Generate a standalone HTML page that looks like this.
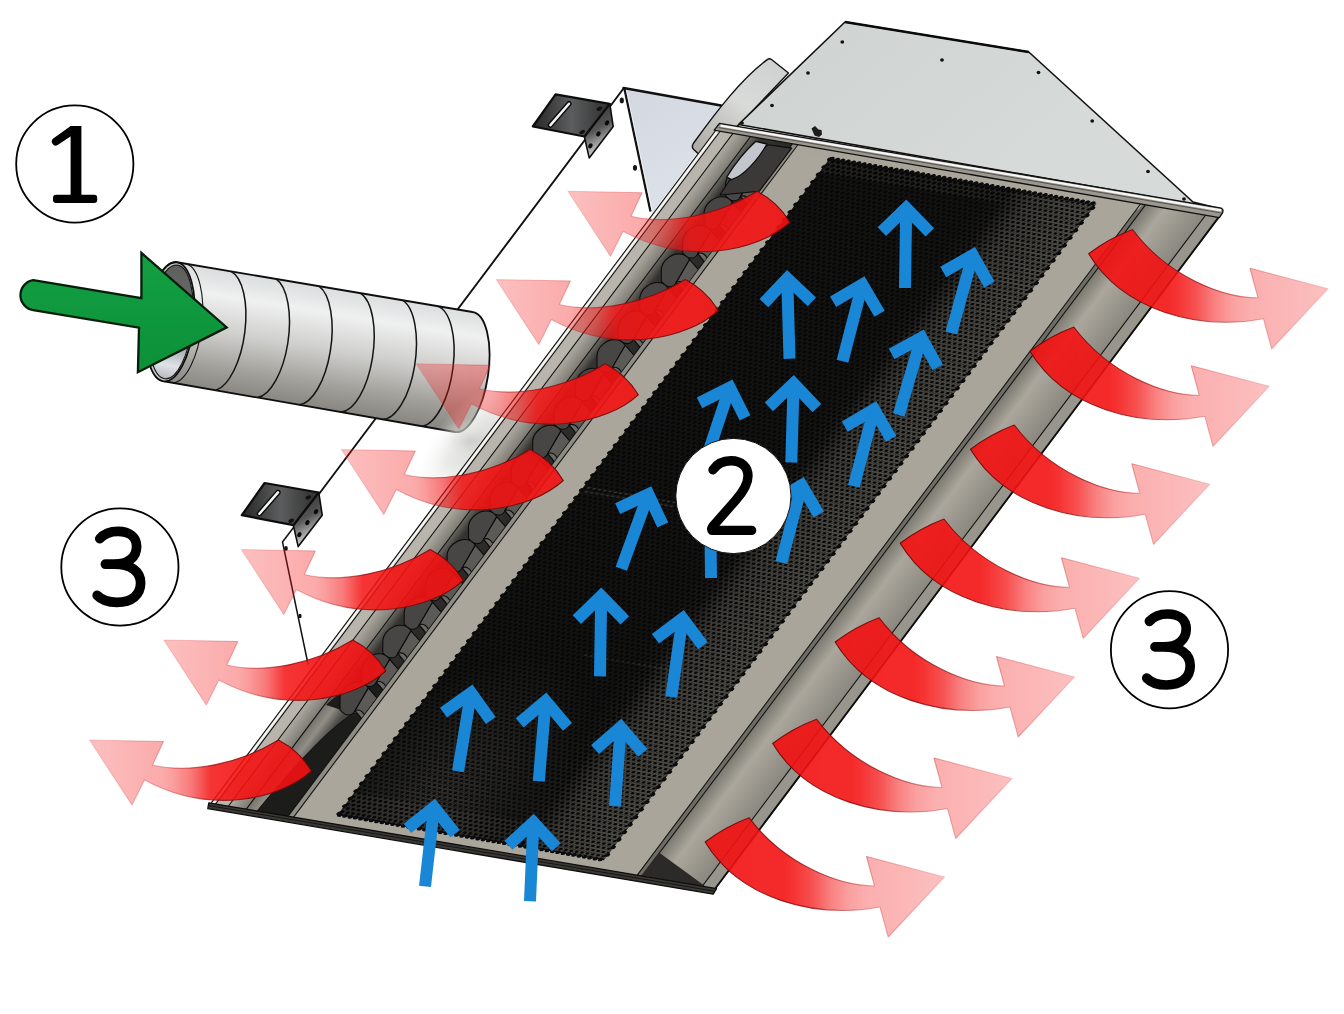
<!DOCTYPE html>
<html lang="en">
<head>
<meta charset="utf-8">
<title>Air flow diagram</title>
<style>
html,body{margin:0;padding:0;background:#fff;font-family:"Liberation Sans",sans-serif;}
body{width:1344px;height:1014px;overflow:hidden;}
svg{display:block;}
</style>
</head>
<body>
<svg width="1344" height="1014" viewBox="0 0 1344 1014">
<defs>
<linearGradient id="gDuct" gradientUnits="userSpaceOnUse" x1="330" y1="285" x2="310" y2="410">
 <stop offset="0" stop-color="#d9dbdc"/><stop offset="0.22" stop-color="#eff0f0"/>
 <stop offset="0.5" stop-color="#d0d0ce"/><stop offset="0.78" stop-color="#a3a19b"/><stop offset="1" stop-color="#85837d"/>
</linearGradient>
<linearGradient id="gDuctIn" gradientUnits="userSpaceOnUse" x1="6" y1="-56" x2="-6" y2="56">
 <stop offset="0" stop-color="#5f5f5d"/><stop offset="0.5" stop-color="#6e6e6c"/>
 <stop offset="0.7" stop-color="#a4a8ad"/><stop offset="0.88" stop-color="#dfe3e8"/><stop offset="1" stop-color="#b9bdc3"/>
</linearGradient>
<linearGradient id="gGreen" x1="0" y1="0" x2="0" y2="1">
 <stop offset="0" stop-color="#13a043"/><stop offset="1" stop-color="#0c9038"/>
</linearGradient>
<linearGradient id="gBrk" x1="0" y1="0" x2="1" y2="0">
 <stop offset="0" stop-color="#262626"/><stop offset="0.5" stop-color="#5c5d5e"/><stop offset="1" stop-color="#2e2e2e"/>
</linearGradient>
<linearGradient id="gBrkV" x1="0" y1="0" x2="0.3" y2="1">
 <stop offset="0" stop-color="#2a2a2a"/><stop offset="0.55" stop-color="#555"/><stop offset="1" stop-color="#dcdcdc"/>
</linearGradient>
<linearGradient id="gTri" gradientUnits="userSpaceOnUse" x1="625" y1="90" x2="690" y2="200">
 <stop offset="0" stop-color="#d3d8e0"/><stop offset="1" stop-color="#dde1e8"/>
</linearGradient>
<linearGradient id="gSpig" gradientUnits="userSpaceOnUse" x1="770" y1="60" x2="700" y2="150">
 <stop offset="0" stop-color="#cfd2d1"/><stop offset="0.45" stop-color="#d9dbd9"/><stop offset="1" stop-color="#aeaca4"/>
</linearGradient>
<linearGradient id="gCap" gradientUnits="userSpaceOnUse" x1="850" y1="20" x2="1000" y2="200">
 <stop offset="0" stop-color="#d0d4d3"/><stop offset="1" stop-color="#d6dad9"/>
</linearGradient>
<!-- sloped right face gradient across u (panel space) -->
<linearGradient id="gSlope" gradientUnits="userSpaceOnUse" x1="437" y1="0" x2="498" y2="0">
 <stop offset="0" stop-color="#7b7870"/><stop offset="0.33" stop-color="#aba79d"/><stop offset="1" stop-color="#8a877e"/>
</linearGradient>
<linearGradient id="gLeftBand" gradientUnits="userSpaceOnUse" x1="18" y1="0" x2="36" y2="0">
 <stop offset="0" stop-color="#aeaaa1"/><stop offset="1" stop-color="#7e7b74"/>
</linearGradient>
<linearGradient id="gSlot" gradientUnits="userSpaceOnUse" x1="36" y1="0" x2="78" y2="0">
 <stop offset="0" stop-color="#6a6862"/><stop offset="0.25" stop-color="#34332f"/><stop offset="1" stop-color="#2a2927"/>
</linearGradient>
<linearGradient id="gRail" gradientUnits="userSpaceOnUse" x1="36" y1="0" x2="60" y2="0">
 <stop offset="0" stop-color="#76736c"/><stop offset="0.45" stop-color="#918e86"/><stop offset="1" stop-color="#4a4946"/>
</linearGradient>
<radialGradient id="gBlob"><stop offset="0" stop-color="#c6c6c2" stop-opacity="0.85"/><stop offset="0.45" stop-color="#d4d4d0" stop-opacity="0.5"/><stop offset="1" stop-color="#fff" stop-opacity="0"/></radialGradient>
<radialGradient id="gBlob2"><stop offset="0" stop-color="#c9c9c6" stop-opacity="0.7"/><stop offset="1" stop-color="#fff" stop-opacity="0"/></radialGradient>
<linearGradient id="gGlass" gradientUnits="userSpaceOnUse" x1="-38" y1="0" x2="0" y2="0">
 <stop offset="0" stop-color="#ffffff" stop-opacity="0"/><stop offset="1" stop-color="#c9c9c4" stop-opacity="0.9"/>
</linearGradient>
<!-- red arrows (local coords, tip at origin) -->
<linearGradient id="gRedL" gradientUnits="userSpaceOnUse" x1="0" y1="0" x2="222" y2="0">
 <stop offset="0" stop-color="#f41414" stop-opacity="0.27"/>
 <stop offset="0.333" stop-color="#f41414" stop-opacity="0.36"/>
 <stop offset="0.374" stop-color="#f41414" stop-opacity="0.41"/>
 <stop offset="0.46" stop-color="#f41414" stop-opacity="0.57"/>
 <stop offset="0.545" stop-color="#f41414" stop-opacity="0.86"/>
 <stop offset="0.68" stop-color="#f31212" stop-opacity="0.9"/>
 <stop offset="1" stop-color="#f21111" stop-opacity="0.91"/>
</linearGradient>
<linearGradient id="gRedLs" gradientUnits="userSpaceOnUse" x1="0" y1="0" x2="222" y2="0">
 <stop offset="0" stop-color="#d44" stop-opacity="0.2"/>
 <stop offset="0.33" stop-color="#c33" stop-opacity="0.4"/>
 <stop offset="0.56" stop-color="#900c0c" stop-opacity="0.8"/>
 <stop offset="1" stop-color="#6a0606" stop-opacity="0.95"/>
</linearGradient>
<linearGradient id="gRedR" gradientUnits="userSpaceOnUse" x1="-240" y1="0" x2="0" y2="0">
 <stop offset="0" stop-color="#f21111" stop-opacity="0.91"/>
 <stop offset="0.33" stop-color="#f31212" stop-opacity="0.9"/>
 <stop offset="0.37" stop-color="#f41414" stop-opacity="0.87"/>
 <stop offset="0.45" stop-color="#f41414" stop-opacity="0.74"/>
 <stop offset="0.525" stop-color="#f41414" stop-opacity="0.54"/>
 <stop offset="0.604" stop-color="#f41414" stop-opacity="0.40"/>
 <stop offset="0.68" stop-color="#f41414" stop-opacity="0.34"/>
 <stop offset="1" stop-color="#f41414" stop-opacity="0.27"/>
</linearGradient>
<linearGradient id="gRedRs" gradientUnits="userSpaceOnUse" x1="-240" y1="0" x2="0" y2="0">
 <stop offset="0" stop-color="#6a0606" stop-opacity="0.95"/>
 <stop offset="0.45" stop-color="#900c0c" stop-opacity="0.8"/>
 <stop offset="0.71" stop-color="#c33" stop-opacity="0.4"/>
 <stop offset="1" stop-color="#d44" stop-opacity="0.2"/>
</linearGradient>
<!-- perforation pattern (panel space) -->
<pattern id="pPerf" patternUnits="userSpaceOnUse" width="5.4" height="9.4">
 <rect width="5.4" height="9.4" fill="#363531"/>
 <circle cx="2.7" cy="2.35" r="2.15" fill="#050505"/>
 <circle cx="0" cy="7.05" r="2.15" fill="#050505"/>
 <circle cx="5.4" cy="7.05" r="2.15" fill="#050505"/>
</pattern>
<pattern id="pMesh" patternUnits="userSpaceOnUse" width="5.4" height="9.4">
 <circle cx="2.7" cy="2.35" r="2.2" fill="none" stroke="#76736a" stroke-width="0.8"/>
 <circle cx="0" cy="7.05" r="2.2" fill="none" stroke="#76736a" stroke-width="0.8"/>
 <circle cx="5.4" cy="7.05" r="2.2" fill="none" stroke="#76736a" stroke-width="0.8"/>
</pattern>
<linearGradient id="gDark" gradientUnits="userSpaceOnUse" x1="122" y1="0" x2="325" y2="0">
 <stop offset="0" stop-color="#0a0a0a" stop-opacity="0.62"/><stop offset="0.8" stop-color="#0a0a0a" stop-opacity="0.62"/><stop offset="1" stop-color="#0a0a0a" stop-opacity="0"/>
</linearGradient>
<linearGradient id="gMeshFade" gradientUnits="userSpaceOnUse" x1="305" y1="0" x2="392" y2="0">
 <stop offset="0" stop-color="#fff" stop-opacity="0"/><stop offset="0.3" stop-color="#fff" stop-opacity="0.6"/><stop offset="1" stop-color="#fff" stop-opacity="0.9"/>
</linearGradient>
<mask id="mMeshR" maskUnits="userSpaceOnUse" x="0" y="0" width="520" height="860">
 <rect x="290" y="0" width="110" height="860" fill="url(#gMeshFade)"/>
</mask>
<radialGradient id="gMeshBL" gradientUnits="userSpaceOnUse" cx="200" cy="40" r="120" gradientTransform="translate(200 40) scale(1 1.6) translate(-200 -40)">
 <stop offset="0" stop-color="#fff" stop-opacity="0.55"/><stop offset="1" stop-color="#fff" stop-opacity="0"/>
</radialGradient>
<mask id="mMeshBL" maskUnits="userSpaceOnUse" x="0" y="0" width="520" height="860">
 <rect x="120" y="0" width="280" height="260" fill="url(#gMeshBL)"/>
</mask>
</defs>
<rect width="1344" height="1014" fill="#fff"/>
<g id="glass-lines" fill="none" stroke="#111" stroke-width="1.9" stroke-linecap="round">
<path d="M623.5,88.5 L319,494"/>
<path d="M319,494 L282.5,542 L308,664" stroke-width="1.5"/>
</g>
<g id="duct">
<path d="M175.5,262.0 L472.5,312.0 A24.5,60.6 8.3 0 1 455.0,432.0 L162.5,381.0 A24,60 6.2 0 1 175.5,262.0 Z" fill="url(#gDuct)" stroke="#0e0e0e" stroke-width="1.8" stroke-linejoin="round"/>
<g fill="none" stroke="#141414" stroke-width="1.5">
<path d="M231.0,271.3 A26,61 8 0 1 216.0,390.3"/>
<path d="M276.0,278.9 A26,61 8 0 1 257.5,397.6"/>
<path d="M319.0,286.2 A26,61 8 0 1 299.0,404.8"/>
<path d="M360.5,293.1 A26,61 8 0 1 341.0,412.1"/>
<path d="M402.5,300.2 A26,61 8 0 1 382.5,419.4"/>
<path d="M437.5,306.1 A26,61 8 0 1 422.5,426.3"/>
<path d="M186.5,263.9 A24,60 6.5 0 1 173.0,382.8" stroke-width="1.1"/>
</g>
<g transform="translate(170.2 321.8) rotate(6.2)">
<ellipse rx="23.8" ry="59.8" fill="#c9c9c6" stroke="#0e0e0e" stroke-width="1.7"/>
<ellipse cx="0.9" rx="21.4" ry="57.2" fill="url(#gDuctIn)" stroke="#1a1a1a" stroke-width="1.2"/>
</g>
</g>
<path id="green" d="M33.2,280.2 L141.4,298.2 L141.4,252.9 L226.7,327.4 L137.9,372.2 L139.0,327.6 L33.2,310.2 A15.2,15.2 0 0 1 33.2,280.2 Z" fill="url(#gGreen)" stroke="#061d0b" stroke-width="2.3" stroke-linejoin="miter"/>
<g id="brackets">
<g transform="translate(0.0 0.0)">
<path d="M318.8,492.5 L322.2,515.2 L298.2,546.6 L293.4,525.6 Z" fill="url(#gBrkV)" stroke="#0d0d0d" stroke-width="1.6" stroke-linejoin="round"/>
<ellipse cx="316.0" cy="511.6" rx="2.0" ry="2.7" fill="#0a0a0a" transform="rotate(25 316.0 511.6)"/>
<ellipse cx="307.4" cy="522.6" rx="2.0" ry="2.7" fill="#0a0a0a" transform="rotate(25 307.4 522.6)"/>
<ellipse cx="299.4" cy="534.6" rx="2.0" ry="2.7" fill="#0a0a0a" transform="rotate(25 299.4 534.6)"/>
<path d="M264.6,483.0 L318.8,492.5 L293.4,525.2 L241.8,515.2 Z" fill="url(#gBrk)" stroke="#0d0d0d" stroke-width="2.2" stroke-linejoin="round"/>
<path d="M278.0,492.4 L259.4,513.8" stroke="#0d0d0d" stroke-width="5.4" stroke-linecap="round" fill="none"/>
<path d="M278.0,492.4 L259.4,513.8" stroke="#f4f4f4" stroke-width="2.5" stroke-linecap="round" fill="none"/>
<ellipse cx="308.4" cy="497.4" rx="3.0" ry="1.9" fill="#101010" transform="rotate(-25 308.4 497.4)"/>
<ellipse cx="291.2" cy="520.8" rx="3.0" ry="1.9" fill="#101010" transform="rotate(-25 291.2 520.8)"/>
</g>
<g transform="translate(291.0 -388.7)">
<path d="M318.8,492.5 L322.2,515.2 L298.2,546.6 L293.4,525.6 Z" fill="url(#gBrkV)" stroke="#0d0d0d" stroke-width="1.6" stroke-linejoin="round"/>
<ellipse cx="316.0" cy="511.6" rx="2.0" ry="2.7" fill="#0a0a0a" transform="rotate(25 316.0 511.6)"/>
<ellipse cx="307.4" cy="522.6" rx="2.0" ry="2.7" fill="#0a0a0a" transform="rotate(25 307.4 522.6)"/>
<ellipse cx="299.4" cy="534.6" rx="2.0" ry="2.7" fill="#0a0a0a" transform="rotate(25 299.4 534.6)"/>
<path d="M264.6,483.0 L318.8,492.5 L293.4,525.2 L241.8,515.2 Z" fill="url(#gBrk)" stroke="#0d0d0d" stroke-width="2.2" stroke-linejoin="round"/>
<path d="M278.0,492.4 L259.4,513.8" stroke="#0d0d0d" stroke-width="5.4" stroke-linecap="round" fill="none"/>
<path d="M278.0,492.4 L259.4,513.8" stroke="#f4f4f4" stroke-width="2.5" stroke-linecap="round" fill="none"/>
<ellipse cx="308.4" cy="497.4" rx="3.0" ry="1.9" fill="#101010" transform="rotate(-25 308.4 497.4)"/>
<ellipse cx="291.2" cy="520.8" rx="3.0" ry="1.9" fill="#101010" transform="rotate(-25 291.2 520.8)"/>
</g>
</g>
<g fill="#111"><ellipse cx="286" cy="548.5" rx="1.8" ry="2.4"/><ellipse cx="300" cy="616" rx="1.6" ry="2.3"/></g>
<g id="plenum">
<path d="M624.3,88.0 L721.0,105.5 L716,128 L652.5,213 Z" fill="url(#gTri)" stroke="none"/>
<path d="M623.6,88.0 L721.0,105.5" stroke="#111" stroke-width="2.6" fill="none" stroke-linecap="round"/>
<path d="M624.3,88.0 L650.5,211.5" stroke="#111" stroke-width="2.3" fill="none"/>
<path d="M626.3,90 L652,210" stroke="#fff" stroke-width="0.8" fill="none" opacity="0.8"/>
<g fill="#161616"><ellipse cx="621.8" cy="100.4" rx="2.1" ry="2.9"/><ellipse cx="635.0" cy="167.8" rx="2.1" ry="2.9"/></g>
</g>
<path id="spigot" d="M788.5,73.0 L771.5,59.5 Q769.5,58 767.3,59.6 C742,78 716,112 693.3,143.5 Q691.2,147 693.8,149.6 L698.5,154.0 L740,124 Z" fill="url(#gSpig)" stroke="#111" stroke-width="1.4" stroke-linejoin="round"/>
<g id="cap">
<path d="M738.5,124.5 L845.0,22.0 L1028.8,52.0 L1193.0,202.0 L1221,209 Z" fill="url(#gCap)" stroke="#111" stroke-width="1.6" stroke-linejoin="round"/>
<path d="M845.0,22.0 L1028.8,52.0" stroke="#0a0a0a" stroke-width="2.4" fill="none"/>
<g fill="#111">
<ellipse cx="842.3" cy="42.0" rx="1.9" ry="1.7"/>
<ellipse cx="808.0" cy="73.0" rx="1.9" ry="1.7"/>
<ellipse cx="772.0" cy="105.5" rx="1.9" ry="1.7"/>
<ellipse cx="942.0" cy="60.0" rx="1.9" ry="1.7"/>
<ellipse cx="1038.5" cy="72.5" rx="1.9" ry="1.7"/>
<ellipse cx="1092.2" cy="121.0" rx="1.9" ry="1.7"/>
<ellipse cx="1148.0" cy="171.5" rx="1.9" ry="1.7"/>
<ellipse cx="742.0" cy="123.0" rx="1.9" ry="1.7"/>
<ellipse cx="1184.0" cy="199.0" rx="1.9" ry="1.7"/>
</g>
<path d="M811.5,128.5 l3.5,-2.5 l3.5,3.5 l3,0.5 l0.5,4.5 l-3,2.5 l-4.5,-1.5 z" fill="#1c1c1c"/>
</g>
<g transform="matrix(0.9863 0.1680 0.6000 -0.8000 210.0 804.0)"><ellipse cx="-4" cy="452" rx="46" ry="80" fill="url(#gBlob)"/></g>
<ellipse cx="470" cy="441" rx="34" ry="22" fill="url(#gBlob2)"/>
<g id="body" transform="matrix(0.9863 0.1680 0.6000 -0.8000 210.0 804.0)">
<rect x="0" y="0" width="512" height="847" fill="#aaa69c"/>
<rect x="0" y="0" width="5" height="847" fill="#dddbd6"/>
<rect x="5" y="0" width="13" height="847" fill="#b9b5ac"/>
<rect x="18" y="0" width="18" height="847" fill="url(#gLeftBand)"/>
<rect x="36" y="0" width="43" height="847" fill="url(#gSlot)"/>
<path d="M36,0 H78.5 V166 L52,166 Q40,150 36,124 Z" fill="#1c1c1b"/>
<ellipse cx="66" cy="140" rx="9" ry="13" fill="#4a4947" stroke="#0c0c0c" stroke-width="1"/>
<path d="M36,0 L36,132 L67,127 Q52,98 47,0 Z" fill="url(#gRail)"/>
<path d="M67,127 Q52,98 47,0" fill="none" stroke="#111" stroke-width="1"/>
<rect x="78.5" y="0" width="5.5" height="847" fill="#8f8c84"/>
<rect x="84" y="0" width="38" height="847" fill="#aaa69c"/>
<rect x="392" y="0" width="40" height="847" fill="#a9a59b"/>
<rect x="432" y="0" width="5" height="847" fill="#6f6c65"/>
<rect x="437" y="0" width="61" height="847" fill="url(#gSlope)"/>
<rect x="498" y="0" width="14" height="847" fill="#98958c"/>
<rect x="84" y="834" width="350" height="13" fill="#a9a59b"/>
<rect x="122" y="12" width="270" height="821" fill="url(#pPerf)"/>
<rect x="122" y="12" width="270" height="821" fill="#060606" opacity="0.3"/>
<rect x="123" y="40" width="202" height="775" fill="url(#gDark)"/>
<rect x="122" y="12" width="270" height="821" fill="url(#pMesh)" mask="url(#mMeshR)"/>
<rect x="122" y="12" width="270" height="821" fill="url(#pMesh)" mask="url(#mMeshBL)"/>
<g fill="none" stroke="#0b0b0b" stroke-width="4.6" stroke-linecap="round" stroke-dasharray="0 9.4">
<path d="M122.3,14 V833"/><path d="M391.7,18.7 V833"/>
</g>
<g fill="none" stroke="#0b0b0b" stroke-width="4.6" stroke-linecap="round" stroke-dasharray="0 5.4">
<path d="M124,12.3 H392"/><path d="M124,832.7 H392"/>
</g>
<g fill="none" stroke="#8d897f" stroke-width="1" stroke-dasharray="3 2.4" opacity="0.55"><path d="M126,417 H216"/><path d="M126,422 H216"/><path d="M236,236 H380" opacity="0.5"/></g>
<g fill="none" stroke="#111" stroke-width="1.2">
<path d="M0.4,0 V847"/>
<path d="M5.0,0 V847"/>
<path d="M18.0,0 V847"/>
<path d="M36.0,0 V847"/>
<path d="M78.5,0 V847"/>
<path d="M84.0,0 V847"/>
<path d="M432.0,0 V847"/>
<path d="M437.0,0 V847"/>
<path d="M498.0,0 V847"/>
</g>
<path d="M2.6,0 V847" stroke="#fff" stroke-width="1.6" fill="none" opacity="0.9"/>
<path d="M511.2,0 V847" stroke="#0c0c0c" stroke-width="2.1" fill="none"/>
</g>
<clipPath id="cSlot"><polygon points="246.1,810.1 287.1,817.1 788.7,148.3 747.7,141.3"/></clipPath>
<g id="nozzles" clip-path="url(#cSlot)" stroke="#0c0c0c" stroke-width="1.1" stroke-linejoin="round">
<g transform="translate(340.0 682.3)"><path d="M28.2,5.6 L37.6,16.3 L23.8,38.8 L15,28.2 Z" fill="#5b5a57"/><path d="M0,27.6 L0,15 C1.3,6.3 10,0 17.5,0 C22.6,0 26.3,2.5 28.2,5.6 L15,28.2 C12.5,33.8 6.3,33.8 2.5,30 Z" fill="#474644"/><path d="M15,28.2 C19,26.5 24,29 25.5,36.2 L23.8,38.8 Z" fill="#6a6966"/></g>
<g transform="translate(361.4 653.8)"><path d="M28.2,5.6 L37.6,16.3 L23.8,38.8 L15,28.2 Z" fill="#5b5a57"/><path d="M0,27.6 L0,15 C1.3,6.3 10,0 17.5,0 C22.6,0 26.3,2.5 28.2,5.6 L15,28.2 C12.5,33.8 6.3,33.8 2.5,30 Z" fill="#474644"/><path d="M15,28.2 C19,26.5 24,29 25.5,36.2 L23.8,38.8 Z" fill="#6a6966"/></g>
<g transform="translate(382.8 625.2)"><path d="M28.2,5.6 L37.6,16.3 L23.8,38.8 L15,28.2 Z" fill="#5b5a57"/><path d="M0,27.6 L0,15 C1.3,6.3 10,0 17.5,0 C22.6,0 26.3,2.5 28.2,5.6 L15,28.2 C12.5,33.8 6.3,33.8 2.5,30 Z" fill="#474644"/><path d="M15,28.2 C19,26.5 24,29 25.5,36.2 L23.8,38.8 Z" fill="#6a6966"/></g>
<g transform="translate(404.2 596.6)"><path d="M28.2,5.6 L37.6,16.3 L23.8,38.8 L15,28.2 Z" fill="#5b5a57"/><path d="M0,27.6 L0,15 C1.3,6.3 10,0 17.5,0 C22.6,0 26.3,2.5 28.2,5.6 L15,28.2 C12.5,33.8 6.3,33.8 2.5,30 Z" fill="#474644"/><path d="M15,28.2 C19,26.5 24,29 25.5,36.2 L23.8,38.8 Z" fill="#6a6966"/></g>
<g transform="translate(425.6 568.1)"><path d="M28.2,5.6 L37.6,16.3 L23.8,38.8 L15,28.2 Z" fill="#5b5a57"/><path d="M0,27.6 L0,15 C1.3,6.3 10,0 17.5,0 C22.6,0 26.3,2.5 28.2,5.6 L15,28.2 C12.5,33.8 6.3,33.8 2.5,30 Z" fill="#474644"/><path d="M15,28.2 C19,26.5 24,29 25.5,36.2 L23.8,38.8 Z" fill="#6a6966"/></g>
<g transform="translate(447.1 539.5)"><path d="M28.2,5.6 L37.6,16.3 L23.8,38.8 L15,28.2 Z" fill="#5b5a57"/><path d="M0,27.6 L0,15 C1.3,6.3 10,0 17.5,0 C22.6,0 26.3,2.5 28.2,5.6 L15,28.2 C12.5,33.8 6.3,33.8 2.5,30 Z" fill="#474644"/><path d="M15,28.2 C19,26.5 24,29 25.5,36.2 L23.8,38.8 Z" fill="#6a6966"/></g>
<g transform="translate(468.5 511.0)"><path d="M28.2,5.6 L37.6,16.3 L23.8,38.8 L15,28.2 Z" fill="#5b5a57"/><path d="M0,27.6 L0,15 C1.3,6.3 10,0 17.5,0 C22.6,0 26.3,2.5 28.2,5.6 L15,28.2 C12.5,33.8 6.3,33.8 2.5,30 Z" fill="#474644"/><path d="M15,28.2 C19,26.5 24,29 25.5,36.2 L23.8,38.8 Z" fill="#6a6966"/></g>
<g transform="translate(489.9 482.4)"><path d="M28.2,5.6 L37.6,16.3 L23.8,38.8 L15,28.2 Z" fill="#5b5a57"/><path d="M0,27.6 L0,15 C1.3,6.3 10,0 17.5,0 C22.6,0 26.3,2.5 28.2,5.6 L15,28.2 C12.5,33.8 6.3,33.8 2.5,30 Z" fill="#474644"/><path d="M15,28.2 C19,26.5 24,29 25.5,36.2 L23.8,38.8 Z" fill="#6a6966"/></g>
<g transform="translate(511.3 453.8)"><path d="M28.2,5.6 L37.6,16.3 L23.8,38.8 L15,28.2 Z" fill="#5b5a57"/><path d="M0,27.6 L0,15 C1.3,6.3 10,0 17.5,0 C22.6,0 26.3,2.5 28.2,5.6 L15,28.2 C12.5,33.8 6.3,33.8 2.5,30 Z" fill="#474644"/><path d="M15,28.2 C19,26.5 24,29 25.5,36.2 L23.8,38.8 Z" fill="#6a6966"/></g>
<g transform="translate(532.7 425.3)"><path d="M28.2,5.6 L37.6,16.3 L23.8,38.8 L15,28.2 Z" fill="#5b5a57"/><path d="M0,27.6 L0,15 C1.3,6.3 10,0 17.5,0 C22.6,0 26.3,2.5 28.2,5.6 L15,28.2 C12.5,33.8 6.3,33.8 2.5,30 Z" fill="#474644"/><path d="M15,28.2 C19,26.5 24,29 25.5,36.2 L23.8,38.8 Z" fill="#6a6966"/></g>
<g transform="translate(554.2 396.7)"><path d="M28.2,5.6 L37.6,16.3 L23.8,38.8 L15,28.2 Z" fill="#5b5a57"/><path d="M0,27.6 L0,15 C1.3,6.3 10,0 17.5,0 C22.6,0 26.3,2.5 28.2,5.6 L15,28.2 C12.5,33.8 6.3,33.8 2.5,30 Z" fill="#474644"/><path d="M15,28.2 C19,26.5 24,29 25.5,36.2 L23.8,38.8 Z" fill="#6a6966"/></g>
<g transform="translate(575.6 368.2)"><path d="M28.2,5.6 L37.6,16.3 L23.8,38.8 L15,28.2 Z" fill="#5b5a57"/><path d="M0,27.6 L0,15 C1.3,6.3 10,0 17.5,0 C22.6,0 26.3,2.5 28.2,5.6 L15,28.2 C12.5,33.8 6.3,33.8 2.5,30 Z" fill="#474644"/><path d="M15,28.2 C19,26.5 24,29 25.5,36.2 L23.8,38.8 Z" fill="#6a6966"/></g>
<g transform="translate(597.0 339.6)"><path d="M28.2,5.6 L37.6,16.3 L23.8,38.8 L15,28.2 Z" fill="#5b5a57"/><path d="M0,27.6 L0,15 C1.3,6.3 10,0 17.5,0 C22.6,0 26.3,2.5 28.2,5.6 L15,28.2 C12.5,33.8 6.3,33.8 2.5,30 Z" fill="#474644"/><path d="M15,28.2 C19,26.5 24,29 25.5,36.2 L23.8,38.8 Z" fill="#6a6966"/></g>
<g transform="translate(618.4 311.0)"><path d="M28.2,5.6 L37.6,16.3 L23.8,38.8 L15,28.2 Z" fill="#5b5a57"/><path d="M0,27.6 L0,15 C1.3,6.3 10,0 17.5,0 C22.6,0 26.3,2.5 28.2,5.6 L15,28.2 C12.5,33.8 6.3,33.8 2.5,30 Z" fill="#474644"/><path d="M15,28.2 C19,26.5 24,29 25.5,36.2 L23.8,38.8 Z" fill="#6a6966"/></g>
<g transform="translate(639.8 282.5)"><path d="M28.2,5.6 L37.6,16.3 L23.8,38.8 L15,28.2 Z" fill="#5b5a57"/><path d="M0,27.6 L0,15 C1.3,6.3 10,0 17.5,0 C22.6,0 26.3,2.5 28.2,5.6 L15,28.2 C12.5,33.8 6.3,33.8 2.5,30 Z" fill="#474644"/><path d="M15,28.2 C19,26.5 24,29 25.5,36.2 L23.8,38.8 Z" fill="#6a6966"/></g>
<g transform="translate(661.3 253.9)"><path d="M28.2,5.6 L37.6,16.3 L23.8,38.8 L15,28.2 Z" fill="#5b5a57"/><path d="M0,27.6 L0,15 C1.3,6.3 10,0 17.5,0 C22.6,0 26.3,2.5 28.2,5.6 L15,28.2 C12.5,33.8 6.3,33.8 2.5,30 Z" fill="#474644"/><path d="M15,28.2 C19,26.5 24,29 25.5,36.2 L23.8,38.8 Z" fill="#6a6966"/></g>
<g transform="translate(682.7 225.4)"><path d="M28.2,5.6 L37.6,16.3 L23.8,38.8 L15,28.2 Z" fill="#5b5a57"/><path d="M0,27.6 L0,15 C1.3,6.3 10,0 17.5,0 C22.6,0 26.3,2.5 28.2,5.6 L15,28.2 C12.5,33.8 6.3,33.8 2.5,30 Z" fill="#474644"/><path d="M15,28.2 C19,26.5 24,29 25.5,36.2 L23.8,38.8 Z" fill="#6a6966"/></g>
<g transform="translate(704.1 196.8)"><path d="M28.2,5.6 L37.6,16.3 L23.8,38.8 L15,28.2 Z" fill="#5b5a57"/><path d="M0,27.6 L0,15 C1.3,6.3 10,0 17.5,0 C22.6,0 26.3,2.5 28.2,5.6 L15,28.2 C12.5,33.8 6.3,33.8 2.5,30 Z" fill="#474644"/><path d="M15,28.2 C19,26.5 24,29 25.5,36.2 L23.8,38.8 Z" fill="#6a6966"/></g>
<g transform="translate(725.5 168.2)"><path d="M28.2,5.6 L37.6,16.3 L23.8,38.8 L15,28.2 Z" fill="#5b5a57"/><path d="M0,27.6 L0,15 C1.3,6.3 10,0 17.5,0 C22.6,0 26.3,2.5 28.2,5.6 L15,28.2 C12.5,33.8 6.3,33.8 2.5,30 Z" fill="#474644"/><path d="M15,28.2 C19,26.5 24,29 25.5,36.2 L23.8,38.8 Z" fill="#6a6966"/></g>
<g transform="translate(746.9 139.7)"><path d="M28.2,5.6 L37.6,16.3 L23.8,38.8 L15,28.2 Z" fill="#5b5a57"/><path d="M0,27.6 L0,15 C1.3,6.3 10,0 17.5,0 C22.6,0 26.3,2.5 28.2,5.6 L15,28.2 C12.5,33.8 6.3,33.8 2.5,30 Z" fill="#474644"/><path d="M15,28.2 C19,26.5 24,29 25.5,36.2 L23.8,38.8 Z" fill="#6a6966"/></g>
</g>
<path d="M767.8,144.8 L791.7,148.1 L759.4,191.2 L720,195 L729,181 Z" fill="#3a3937" stroke="#0c0c0c" stroke-width="1.1" stroke-linejoin="round"/>
<path d="M755.6,141.4 L767.0,144.0 C758,160 743,176.5 731.5,179.6 L726.8,177.0 C734,165 744,152 755.6,141.4 Z" fill="#c3c7cd" stroke="#0c0c0c" stroke-width="1.3" stroke-linejoin="round"/>
<path d="M641.5,875.5 L707.0,887.5 L659.0,852.5 Z" fill="#2b2a28"/>
<path d="M208.8,802.8 L716.5,888.6 L713.2,894.2 L207.8,808.6 Z" fill="#3b3935" stroke="#0e0e0e" stroke-width="1.3" stroke-linejoin="round"/>
<path d="M209,805.6 L714.6,891.2" stroke="#111" stroke-width="0.9" fill="none"/>
<g id="rim">
<path d="M719.5,123.3 L1221.5,208.2 Q1223.8,209.6 1222.6,212.4 L1219.4,217.6 L714.2,130.2 Z" fill="#9c988f" stroke="#111" stroke-width="1.3" stroke-linejoin="round"/>
<path d="M720.5,125.6 L1221,210.4" stroke="#f7f7f7" stroke-width="2.2" fill="none"/>
<path d="M718.5,127.6 L1220.3,212.8" stroke="#55534e" stroke-width="1" fill="none"/>
</g>
<g id="red-left" stroke-width="1.1" stroke-linejoin="round">
<path transform="translate(568.0 191.3)" d="M0,0 L74,1.5 L63,25 C100,34 150,24 189,0 Q210,11 222,31 C190,60 120,75 55,40 L42.5,65 Z" fill="url(#gRedL)" stroke="url(#gRedLs)"/>
<path transform="translate(496.3 279.5)" d="M0,0 L74,1.5 L63,25 C100,34 150,24 189,0 Q210,11 222,31 C190,60 120,75 55,40 L42.5,65 Z" fill="url(#gRedL)" stroke="url(#gRedLs)"/>
<path transform="translate(416.3 363.8)" d="M0,0 L74,1.5 L63,25 C100,34 150,24 189,0 Q210,11 222,31 C190,60 120,75 55,40 L42.5,65 Z" fill="url(#gRedL)" stroke="url(#gRedLs)"/>
<path transform="translate(341.3 449.5)" d="M0,0 L74,1.5 L63,25 C100,34 150,24 189,0 Q210,11 222,31 C190,60 120,75 55,40 L42.5,65 Z" fill="url(#gRedL)" stroke="url(#gRedLs)"/>
<path transform="translate(241.3 549.5)" d="M0,0 L74,1.5 L63,25 C100,34 150,24 189,0 Q210,11 222,31 C190,60 120,75 55,40 L42.5,65 Z" fill="url(#gRedL)" stroke="url(#gRedLs)"/>
<path transform="translate(163.8 640.0)" d="M0,0 L74,1.5 L63,25 C100,34 150,24 189,0 Q210,11 222,31 C190,60 120,75 55,40 L42.5,65 Z" fill="url(#gRedL)" stroke="url(#gRedLs)"/>
<path transform="translate(89.5 740.0)" d="M0,0 L74,1.5 L63,25 C100,34 150,24 189,0 Q210,11 222,31 C190,60 120,75 55,40 L42.5,65 Z" fill="url(#gRedL)" stroke="url(#gRedLs)"/>
</g>
<g id="red-right" stroke-width="1.1" stroke-linejoin="round">
<path transform="translate(1328.0 288.8)" d="M0,0 L-78,-20.5 L-70,9 C-105,9 -160,-12 -195.5,-59.3 Q-220,-50 -239.3,-35 C-205,22 -130,42 -64.5,30 L-56.3,60 Z" fill="url(#gRedR)" stroke="url(#gRedRs)"/>
<path transform="translate(1269.3 386.3)" d="M0,0 L-78,-20.5 L-70,9 C-105,9 -160,-12 -195.5,-59.3 Q-220,-50 -239.3,-35 C-205,22 -130,42 -64.5,30 L-56.3,60 Z" fill="url(#gRedR)" stroke="url(#gRedRs)"/>
<path transform="translate(1209.8 484.3)" d="M0,0 L-78,-20.5 L-70,9 C-105,9 -160,-12 -195.5,-59.3 Q-220,-50 -239.3,-35 C-205,22 -130,42 -64.5,30 L-56.3,60 Z" fill="url(#gRedR)" stroke="url(#gRedRs)"/>
<path transform="translate(1139.5 578.3)" d="M0,0 L-78,-20.5 L-70,9 C-105,9 -160,-12 -195.5,-59.3 Q-220,-50 -239.3,-35 C-205,22 -130,42 -64.5,30 L-56.3,60 Z" fill="url(#gRedR)" stroke="url(#gRedRs)"/>
<path transform="translate(1074.5 677.0)" d="M0,0 L-78,-20.5 L-70,9 C-105,9 -160,-12 -195.5,-59.3 Q-220,-50 -239.3,-35 C-205,22 -130,42 -64.5,30 L-56.3,60 Z" fill="url(#gRedR)" stroke="url(#gRedRs)"/>
<path transform="translate(1012.0 778.5)" d="M0,0 L-78,-20.5 L-70,9 C-105,9 -160,-12 -195.5,-59.3 Q-220,-50 -239.3,-35 C-205,22 -130,42 -64.5,30 L-56.3,60 Z" fill="url(#gRedR)" stroke="url(#gRedRs)"/>
<path transform="translate(944.5 877.0)" d="M0,0 L-78,-20.5 L-70,9 C-105,9 -160,-12 -195.5,-59.3 Q-220,-50 -239.3,-35 C-205,22 -130,42 -64.5,30 L-56.3,60 Z" fill="url(#gRedR)" stroke="url(#gRedRs)"/>
</g>
<g id="blue" fill="none" stroke="#1a86d6" stroke-width="12.0" stroke-linecap="butt" stroke-linejoin="miter" stroke-miterlimit="6">
<g transform="translate(906.3 199.5) rotate(0.84)"><path d="M0,10.5 V88.5"/><path d="M-24.0,32.5 L0,8.5 L24.0,32.5"/></g>
<g transform="translate(975.0 247.0) rotate(15.41)"><path d="M0,10.5 V89.2"/><path d="M-24.0,32.5 L0,8.5 L24.0,32.5"/></g>
<g transform="translate(787.0 270.0) rotate(-1.61)"><path d="M0,10.5 V88.8"/><path d="M-24.0,32.5 L0,8.5 L24.0,32.5"/></g>
<g transform="translate(864.5 276.3) rotate(14.51)"><path d="M0,10.5 V87.8"/><path d="M-24.0,32.5 L0,8.5 L24.0,32.5"/></g>
<g transform="translate(923.8 329.5) rotate(16.30)"><path d="M0,10.5 V89.1"/><path d="M-24.0,32.5 L0,8.5 L24.0,32.5"/></g>
<g transform="translate(793.8 375.0) rotate(1.64)"><path d="M0,10.5 V87.5"/><path d="M-24.0,32.5 L0,8.5 L24.0,32.5"/></g>
<g transform="translate(732.5 379.5) rotate(18.33)"><path d="M0,10.5 V89.0"/><path d="M-24.0,32.5 L0,8.5 L24.0,32.5"/></g>
<g transform="translate(876.3 401.3) rotate(14.83)"><path d="M0,10.5 V87.9"/><path d="M-24.0,32.5 L0,8.5 L24.0,32.5"/></g>
<g transform="translate(803.8 477.0) rotate(14.74)"><path d="M0,10.5 V88.4"/><path d="M-24.0,32.5 L0,8.5 L24.0,32.5"/></g>
<g transform="translate(651.3 486.3) rotate(19.98)"><path d="M0,10.5 V87.8"/><path d="M-24.0,32.5 L0,8.5 L24.0,32.5"/></g>
<g transform="translate(710.0 490.0) rotate(-0.65)"><path d="M0,10.5 V88.0"/><path d="M-24.0,32.5 L0,8.5 L24.0,32.5"/></g>
<g transform="translate(601.3 587.5) rotate(0.84)"><path d="M0,10.5 V88.8"/><path d="M-24.0,32.5 L0,8.5 L24.0,32.5"/></g>
<g transform="translate(683.8 610.0) rotate(8.18)"><path d="M0,10.5 V87.9"/><path d="M-24.0,32.5 L0,8.5 L24.0,32.5"/></g>
<g transform="translate(472.5 684.5) rotate(9.48)"><path d="M0,10.5 V88.0"/><path d="M-24.0,32.5 L0,8.5 L24.0,32.5"/></g>
<g transform="translate(546.3 692.5) rotate(4.83)"><path d="M0,10.5 V89.1"/><path d="M-24.0,32.5 L0,8.5 L24.0,32.5"/></g>
<g transform="translate(621.3 718.8) rotate(4.12)"><path d="M0,10.5 V87.7"/><path d="M-24.0,32.5 L0,8.5 L24.0,32.5"/></g>
<g transform="translate(435.0 798.8) rotate(6.52)"><path d="M0,10.5 V88.1"/><path d="M-24.0,32.5 L0,8.5 L24.0,32.5"/></g>
<g transform="translate(533.8 813.8) rotate(2.49)"><path d="M0,10.5 V87.6"/><path d="M-24.0,32.5 L0,8.5 L24.0,32.5"/></g>
</g>
<g id="labels" fill="none" stroke="#000"><title>Labels 1, 2, 3, 3</title>
<circle cx="74.8" cy="164" r="58.6" fill="#fff" stroke-width="1.8"/>
<path d="M76,126 V203" stroke-width="10.8"/>
<path d="M70.7,126 L72,126 L72,135.6 L57.6,145 A3.9,3.9 0 0 1 53.2,138.6 Z" fill="#000" stroke="none"/>
<rect x="53" y="194.7" width="44.2" height="8.3" rx="3" fill="#000" stroke="none"/>
<circle cx="733.4" cy="496" r="57.6" fill="#fff" stroke="#111" stroke-width="1"/>
<path d="M713,469.8 C717,463.6 723.5,460.7 731,460.7 C741.5,460.7 748,467 748,476 C748,484.5 743,492 735.5,500.5 L713.5,525.5 Q711,528.5 712,530.4 L751.6,530.4" stroke-width="9.4" stroke-linecap="round" stroke-linejoin="round"/>
<circle cx="119.9" cy="567" r="58.6" fill="#fff" stroke-width="1.8"/>
<path d="M99.8,538.6 C104,533.8 110,531.3 118,531.3 C129.5,531.3 136.6,537.2 136.6,546.4 C136.6,557 128.5,564.2 114,564.2 L105.4,564.2 M114,564.2 C131,564.2 140.6,571.4 140.6,583 C140.6,595 131.5,602.3 117,602.3 C108.5,602.3 101.5,600 97.2,595.4" stroke-width="9.7" stroke-linecap="round" stroke-linejoin="round"/>
<g transform="translate(1049.6 82.7)">
<circle cx="119.9" cy="567" r="58.6" fill="#fff" stroke-width="1.8"/>
<path d="M99.8,538.6 C104,533.8 110,531.3 118,531.3 C129.5,531.3 136.6,537.2 136.6,546.4 C136.6,557 128.5,564.2 114,564.2 L105.4,564.2 M114,564.2 C131,564.2 140.6,571.4 140.6,583 C140.6,595 131.5,602.3 117,602.3 C108.5,602.3 101.5,600 97.2,595.4" stroke-width="9.7" stroke-linecap="round" stroke-linejoin="round"/>
</g>
</g>
</svg>
</body>
</html>
